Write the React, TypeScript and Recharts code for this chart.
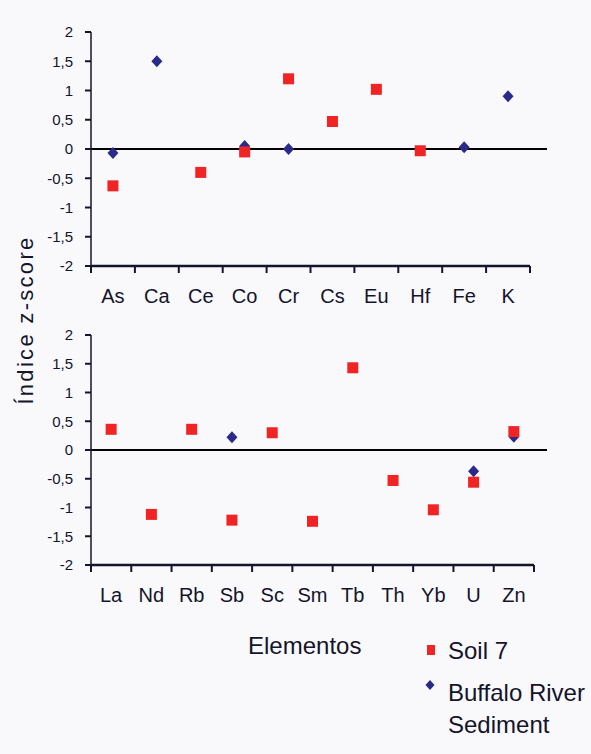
import React from "react";
import { ScatterChart, Scatter, XAxis, YAxis, ReferenceLine } from "recharts";

const topElements = ["As", "Ca", "Ce", "Co", "Cr", "Cs", "Eu", "Hf", "Fe", "K"];
const topSoil = [-0.63, null, -0.4, -0.05, 1.2, 0.47, 1.02, -0.03, null, null];
const topBuffalo = [-0.07, 1.5, null, 0.05, 0.0, null, null, null, 0.03, 0.9];

const bottomElements = ["La", "Nd", "Rb", "Sb", "Sc", "Sm", "Tb", "Th", "Yb", "U", "Zn"];
const bottomSoil = [0.36, -1.12, 0.36, -1.22, 0.3, -1.24, 1.43, -0.53, -1.04, -0.56, 0.32];
const bottomBuffalo = [null, null, null, 0.22, null, null, null, null, null, -0.37, 0.23];

const yTicks = [-2, -1.5, -1, -0.5, 0, 0.5, 1, 1.5, 2];

const RED = "#f02424";
const BLUE = "#2a2a8a";
const INK = "#14142a";
const FONT = "'Liberation Sans', Arial, sans-serif";

const toPoints = (vals: (number | null)[]) =>
  vals
    .map((v, i) => (v === null ? null : { x: i + 0.5, y: v }))
    .filter((p) => p !== null) as { x: number; y: number }[];

const Square = (props: any) => {
  const { cx, cy } = props;
  return <rect x={cx - 5.5} y={cy - 5.5} width={11} height={11} fill={RED} />;
};

const Diamond = (props: any) => {
  const { cx, cy } = props;
  return (
    <polygon
      points={`${cx},${cy - 6} ${cx + 5.5},${cy} ${cx},${cy + 6} ${cx - 5.5},${cy}`}
      fill={BLUE}
    />
  );
};

function Panel({ cats, soil, buffalo, right, height }: { cats: string[]; soil: (number | null)[]; buffalo: (number | null)[]; right: number; height: number }) {
  const n = cats.length;
  const xTicks: number[] = [];
  for (let i = 0; i <= 2 * n; i++) xTicks.push(i / 2);
  const plotW = 591 - right - 91;
  const zeroEnd = n + (547 - 591 + right) / (plotW / n);

  const renderTick = (p: any) => {
    const { x, y, payload } = p;
    const v = payload.value;
    if (Number.isInteger(v)) {
      return <line x1={x} x2={x} y1={y} y2={y + 7} stroke={INK} strokeWidth={2} />;
    }
    return (
      <text x={x} y={y + 37} textAnchor="middle" fontSize={20} fill={INK} fontFamily={FONT}>
        {cats[v - 0.5]}
      </text>
    );
  };

  return (
    <ScatterChart width={591} height={height} margin={{ top: 32, right, left: 0, bottom: 0 }}>
      <XAxis
        type="number"
        dataKey="x"
        domain={[0, n]}
        ticks={xTicks}
        interval={0}
        allowDataOverflow
        tickSize={0}
        tickMargin={0}
        tickLine={false}
        tick={renderTick}
        height={54}
        axisLine={{ stroke: INK, strokeWidth: 2.5 }}
      />
      <YAxis
        type="number"
        dataKey="y"
        domain={[-2, 2]}
        ticks={yTicks}
        interval={0}
        width={91}
        tickSize={6}
        tickMargin={12}
        tickFormatter={(v) => String(v).replace(".", ",")}
        tick={{ fontSize: 15, fill: INK, fontFamily: FONT }}
        tickLine={{ stroke: INK, strokeWidth: 2 }}
        axisLine={{ stroke: INK, strokeWidth: 1.5 }}
      />
      <ReferenceLine
        segment={[{ x: 0, y: 0 }, { x: zeroEnd, y: 0 }]}
        ifOverflow="visible"
        stroke="#000"
        strokeWidth={2}
      />
      <Scatter data={toPoints(buffalo)} shape={<Diamond />} isAnimationActive={false} />
      <Scatter data={toPoints(soil)} shape={<Square />} isAnimationActive={false} />
    </ScatterChart>
  );
}

export default function App() {
  return (
    <div style={{ position: "absolute", left: 0, top: 0, width: 591, height: 754, background: "#f9f9fc", fontFamily: FONT }}>
      <div style={{ position: "absolute", left: 0, top: 0 }}>
        <Panel cats={topElements} soil={topSoil} buffalo={topBuffalo} right={61} height={320} />
      </div>
      <div style={{ position: "absolute", left: 0, top: 303 }}>
        <Panel cats={bottomElements} soil={bottomSoil} buffalo={bottomBuffalo} right={57} height={316} />
      </div>
      <svg width={591} height={754} style={{ position: "absolute", left: 0, top: 0, pointerEvents: "none" }}>
        <text
          transform="translate(33,320) rotate(-90)"
          textAnchor="middle"
          fontSize={22}
          letterSpacing={2.3}
          fill={INK}
          fontFamily={FONT}
        >
          Índice z-score
        </text>
        <text x={248} y={654} fontSize={24} fill={INK} fontFamily={FONT}>Elementos</text>
        <rect x={427} y={645} width={8} height={10} fill={RED} />
        <text x={448} y={659} fontSize={24} fill={INK} fontFamily={FONT}>Soil 7</text>
        <polygon points="430,680 434.5,685 430,690 425.5,685" fill={BLUE} />
        <text x={448} y={701} fontSize={24} fill={INK} fontFamily={FONT}>Buffalo River</text>
        <text x={448} y={733} fontSize={24} fill={INK} fontFamily={FONT}>Sediment</text>
      </svg>
    </div>
  );
}
